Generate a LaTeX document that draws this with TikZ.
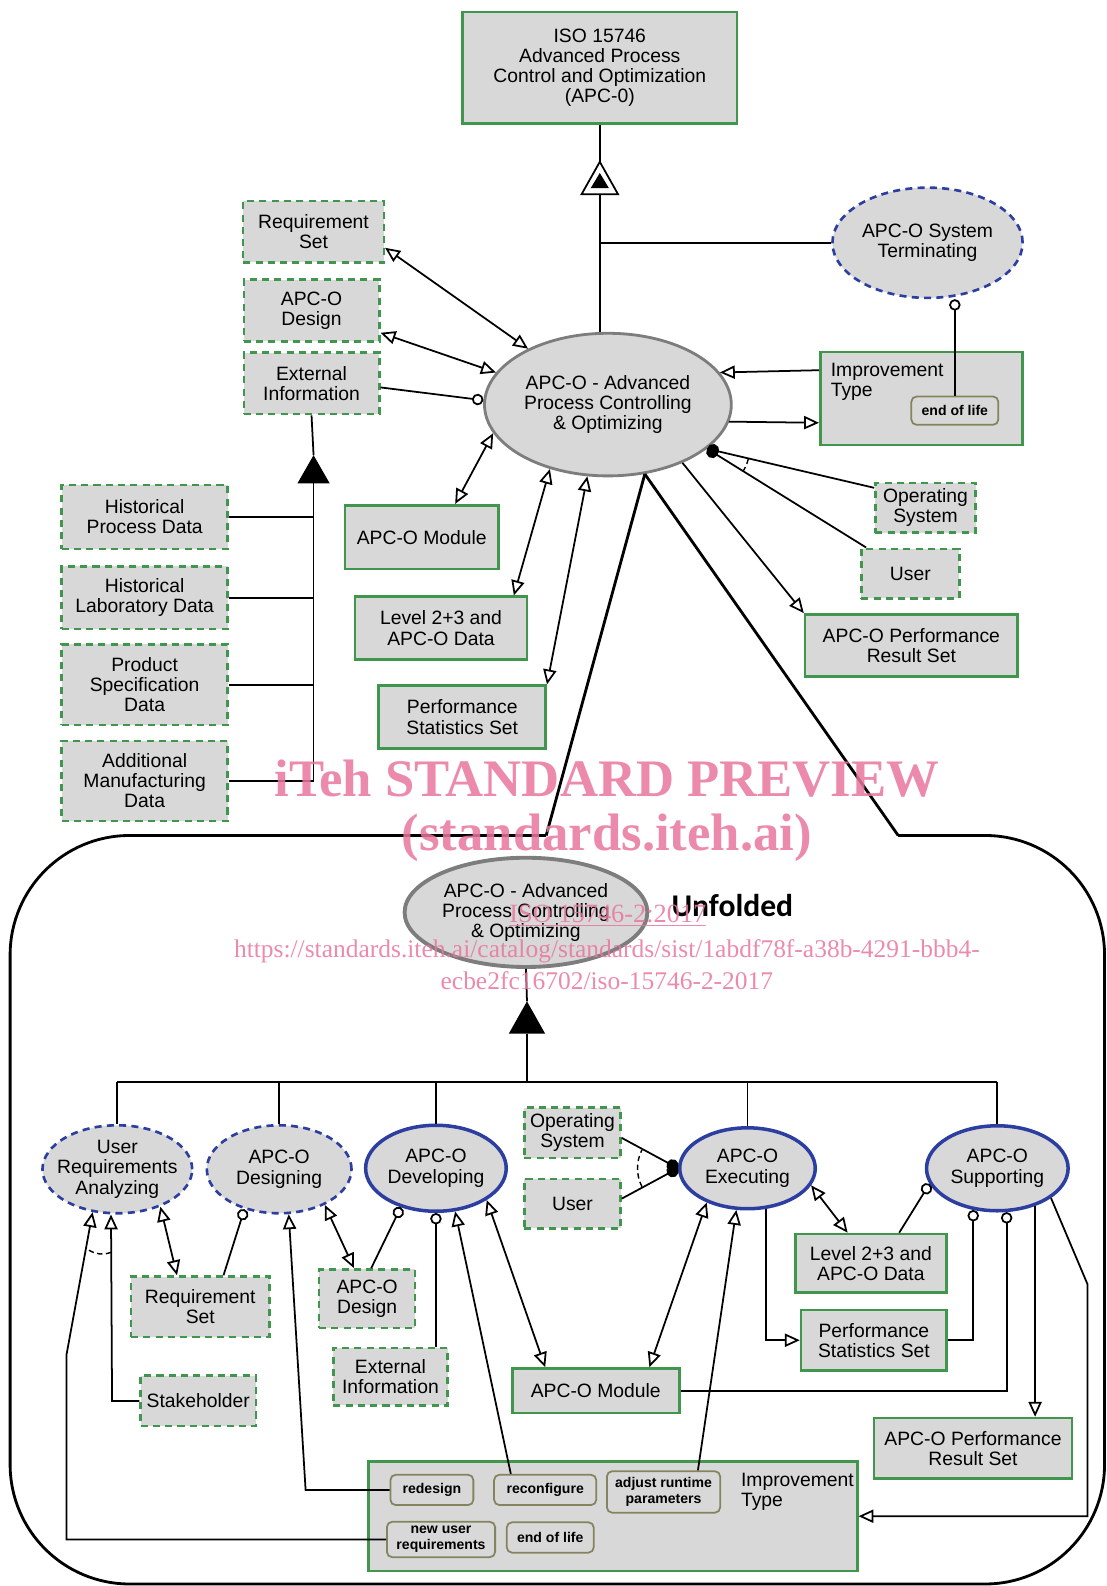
\documentclass[tikz,border=0pt]{standalone}
\usepackage{fontspec}
\setmainfont{Liberation Sans}
\newfontfamily\wmfont{Liberation Serif}
\newfontfamily\calfont{Carlito}
\usetikzlibrary{calc,shapes,arrows.meta,positioning}
\definecolor{boxgreen}{RGB}{64,150,76}
\definecolor{procblue}{RGB}{44,62,160}
\definecolor{boxfill}{RGB}{216,216,216}
\definecolor{procgray}{RGB}{125,125,125}
\definecolor{tagline}{RGB}{132,132,96}
\definecolor{wmpink}{RGB}{233,118,158}
\def\px{0.02024cm}
\tikzset{
     opentip/.tip={Triangle[open,length=8.5pt,width=7.5pt]},
     circtip/.tip={Circle[open,length=6.5pt]},
     dottip/.tip={Circle[length=7pt]},
     sz/.style 2 args={minimum width=#1*\px, minimum height=#2*\px},
     ptext/.style={label={[align=center,anchor=center]center:#1}},
     solid box/.style={rectangle, draw=boxgreen, line width=1.5pt, fill=boxfill, align=center, inner sep=1pt},
     dash box/.style={rectangle, draw=boxgreen, line width=1.4pt, dash pattern=on 4pt off 3pt, fill=boxfill, align=center, inner sep=1pt},
     state tag/.style={rectangle, rounded corners=3pt, draw=tagline, line width=1pt, fill=boxfill, align=center, inner sep=1pt, font=\fontsize{8}{9}\selectfont\bfseries},
     main proc/.style={ellipse, draw=procgray, line width=1.6pt, fill=boxfill, inner sep=0pt},
     open proc/.style={ellipse, draw=procblue, line width=1.5pt, dash pattern=on 4pt off 3pt, fill=boxfill, inner sep=0pt},
     sub proc/.style={ellipse, draw=procblue, line width=2pt, fill=boxfill, inner sep=0pt},
     biedge/.style={opentip-opentip},
     toedge/.style={-opentip},
     circedge/.style={-circtip},
     dotedge/.style={dottip-},
     zoomline/.style={line width=1.6pt},
     wmtext/.style={text=wmpink, text opacity=0.85},
    }

\begin{document}
\begin{tikzpicture}[x=0.02024cm, y=-0.02024cm, line width=1pt, every node/.append style={font=\fontsize{11}{11.5}\selectfont}]
        \useasboundingbox (0,0) rectangle (1094,1568);
        \node [solid box, sz={271}{110}] (iso) at (593,67) {ISO 15746\\Advanced Process\\Control and Optimization\\(APC-0)};
        \node [main proc, sz={244}{141}, ptext={APC-O - Advanced\\Process Controlling\\\& Optimizing}] (apc) at (601,400) {};
        \node [open proc, sz={188}{109}, ptext={APC-O System\\Terminating}] (term) at (917,240) {};
        \node [dash box, sz={139}{61}] (reqset) at (310,229) {Requirement\\Set};
        \node [dash box, sz={134}{61}] (design) at (308,307) {APC-O\\Design};
        \node [dash box, sz={134}{61}] (extinfo) at (308,379) {External\\Information};
        \node [dash box, sz={164}{63}] (hpd) at (143,511) {Historical\\Process Data};
        \node [dash box, sz={164}{62}] (hld) at (143,591) {Historical\\Laboratory Data};
        \node [dash box, sz={164}{80}] (psd) at (143,677) {Product\\Specification\\Data};
        \node [dash box, sz={164}{79}] (amd) at (143,772) {Additional\\Manufacturing\\Data};
        \node [solid box, sz={152}{63}] (module) at (417,531) {APC-O Module};
        \node [solid box, sz={170}{62}] (level) at (436,621) {Level 2+3 and\\APC-O Data};
        \node [solid box, sz={165}{62}] (perfstat) at (457,709) {Performance\\Statistics Set};
        \node [solid box, sz={200}{92}] (imptype) at (911,394) {};
        \node [anchor=north west, align=left] (imptypetxt) at ($(imptype.north west)+(5,6)$) {Improvement\\Type};
        \node [state tag, sz={86}{28}] (eol) at (944,406) {end of life};
        \node [dash box, sz={99}{49}] (opsys) at (915,502) {Operating\\System};
        \node [dash box, sz={97}{49}] (user) at (900,567) {User};
        \node [solid box, sz={210}{61}] (perfres) at (901,638) {APC-O Performance\\Result Set};

        \coordinate (g0top) at (593,160);
        \coordinate (g0bot) at (593,192);
        \draw[fill=white] (g0top) -- ++(-18,32) -- ++(36,0) -- cycle;
        \fill (593,171) -- ++(-9,15) -- ++(18,0) -- cycle;
        \draw (iso.south) -- (g0top);
        \draw (g0bot) -- (g0bot |- apc.north);
        \draw (term.west) -- (term.west -| g0bot);
        \draw[circedge] (eol.north) -- (eol.north |- term.south);

        \coordinate (g1top) at (310,450);
        \coordinate (g1bot) at (310,478);
        \fill (g1top) -- ++(-16,28) -- ++(32,0) -- cycle;
        \draw (extinfo.south) -- (g1top);
        \draw (g1bot) -- (g1bot |- amd.east);
        \foreach \b in {hpd,hld,psd,amd}
          \draw (\b.east) -- (\b.east -| g1bot);

        \draw[biedge] ($(reqset.east)+(0,16)$) -- (apc.145);
        \draw[biedge] ($(design.east)+(0,22)$) -- (apc.164);
        \draw[circedge] ($(extinfo.east)+(0,4)$) -- (apc.178);
        \draw[biedge] ($(module.north)+(33,0)$) -- (apc.194);
        \draw[biedge] ($(level.north)+(72,0)$) -- (apc.228);
        \draw[biedge] (perfstat.north east) -- (apc.254);
        \draw[toedge] ($(imptype.west)+(0,-28)$) -- (apc.16);
        \draw[toedge] (apc.-8) -- ($(imptype.west)+(0,24)$);
        \draw[dotedge] (apc.-24) -- ($(opsys.north west)+(0,6)$);
        \draw[dotedge] (apc.-24) -- ($(user.north west)+(6,0)$);
        \draw[densely dashed, line width=0.8pt] ($(apc.-24)+(13.7:42)$) arc[start angle=13.7, end angle=32, radius=42];
        \draw[toedge] (apc.-38) -- (perfres.north west);

        \coordinate (zl) at (540,826);
        \coordinate (zr) at (888,826);
        \draw[zoomline] (apc.-62) -- (zl);
        \draw[zoomline] (apc.-62) -- (zr);
        \draw[zoomline, rounded corners=2.39cm] (zl) -- (10,826) -- (10,1566) -- (1092,1566) -- (1092,826) -- (zr);

        \node [main proc, line width=2.2pt, sz={240}{108}, ptext={APC-O - Advanced\\Process Controlling\\\& Optimizing}] (apcin) at (520,902) {};
        \node [font=\calfont\bfseries\fontsize{18}{18}\selectfont] (unfold) at (724,895) {Unfolded};
        \coordinate (g2top) at (521,990);
        \coordinate (g2bot) at (521,1022);
        \fill (g2top) -- ++(-18,32) -- ++(36,0) -- cycle;
        \draw (apcin.south) -- (g2top);
        \draw[line width=1.6pt] (g2bot) -- ++(0,48) coordinate (bar);

        \node [open proc, sz={148}{87}, ptext={User\\Requirements\\Analyzing}] (ura) at (116,1156) {};
        \node [open proc, sz={143}{87}, ptext={APC-O\\Designing}] (des) at (276,1156) {};
        \node [sub proc, sz={139}{85}, ptext={APC-O\\Developing}] (dev) at (431,1155) {};
        \node [sub proc, sz={134}{80}, ptext={APC-O\\Executing}] (exe) at (739,1155) {};
        \node [sub proc, sz={140}{84}, ptext={APC-O\\Supporting}] (sup) at (986,1155) {};
        \draw (ura.north |- bar) -- (sup.north |- bar);
        \foreach \p in {ura,des,dev,exe,sup}
          \draw (\p.north |- bar) -- (\p.north);

        \node [dash box, sz={95}{50}] (opsys2) at (566,1120) {Operating\\System};
        \node [dash box, sz={95}{49}] (user2) at (566,1190) {User};
        \node [dash box, sz={137}{60}] (reqset2) at (198,1292) {Requirement\\Set};
        \node [dash box, sz={114}{50}] (stake) at (196,1385) {Stakeholder};
        \node [dash box, sz={95}{58}] (design2) at (363,1284) {APC-O\\Design};
        \node [dash box, sz={113}{57}] (extinfo2) at (386,1361) {External\\Information};
        \node [solid box, sz={165}{44}] (module2) at (589,1375) {APC-O Module};
        \node [solid box, sz={149}{58}] (level2) at (861,1249) {Level 2+3 and\\APC-O Data};
        \node [solid box, sz={144}{60}] (perfstat2) at (864,1325) {Performance\\Statistics Set};
        \node [solid box, sz={196}{60}] (perfres2) at (962,1432) {APC-O Performance\\Result Set};
        \node [solid box, sz={483}{108}] (imptype2) at (606,1499) {};
        \node [anchor=north west, align=left] (imptypetxt2) at (726,1450) {Improvement\\Type};
        \node [state tag, sz={82}{30}] (redesign) at (427,1473) {redesign};
        \node [state tag, sz={101}{30}] (reconf) at (539,1473) {reconfigure};
        \node [state tag, sz={112}{41}] (adjust) at (656,1475) {adjust runtime\\parameters};
        \node [state tag, sz={107}{35}] (newreq) at (436,1522) {new user\\requirements};
        \node [state tag, sz={86}{30}] (eol2) at (544,1520) {end of life};

        \draw[biedge] (ura.-41) -- ($(reqset2.north)+(-23,0)$);
        \draw[circedge] ($(reqset2.north)+(23,0)$) -- (des.-131);
        \draw[toedge] (stake.west) -- ++(-27,0) -- (ura.-98);
        \draw[toedge] (newreq.west) -| ++(-316,-182) -- (ura.-120);
        \draw[densely dashed, line width=0.8pt] (88,1236) to[bend right=25] (110,1238);
        \draw[toedge] (redesign.west) -- ++(-83,0) -- (des.-78);
        \draw[biedge] (des.-38) -- ($(design2.north)+(-13,0)$);
        \draw[circedge] ($(design2.north)+(4,0)$) -- (dev.-132);
        \draw[circedge] (dev.south |- extinfo2.north) -- (dev.south);
        \draw[toedge] ($(reconf.north)+(-34,0)$) -- (dev.-66);
        \draw[biedge] (dev.-32) -- ($(module2.north)+(-50,0)$);
        \draw[biedge] (exe.-140) -- ($(module2.north)+(53,0)$);
        \draw[toedge] ($(adjust.north)+(34,0)$) -- (exe.-105);
        \draw[dotedge] (exe.west) -- ($(opsys2.east)+(0,5)$);
        \draw[dotedge] (exe.west) -- ($(user2.east)+(0,-5)$);
        \draw[densely dashed, line width=0.8pt] ($(exe.west)+(152.9:40)$) arc[start angle=152.9, end angle=207.1, radius=40];
        \draw[biedge] (exe.-15) -- ($(level2.north)+(-23,0)$);
        \draw[circedge] ($(level2.north)+(28,0)$) -- (sup.193);
        \draw[toedge] (exe.-66) |- (perfstat2.west);
        \draw[circedge] (perfstat2.east) -| (sup.-120);
        \draw[circedge] (module2.east) -| (sup.-78);
        \draw[toedge] (sup.-45) -- (sup.-45 |- perfres2.north);
        \draw[toedge] (sup.-29) -- ++(36,85) |- (imptype2.east);

        \node [wmtext, font=\wmfont\bfseries\fontsize{30}{30}\selectfont] (wm1) at (600,770) {iTeh STANDARD PREVIEW};
        \node [wmtext, font=\wmfont\bfseries\fontsize{30}{30}\selectfont] (wm2) at (600,828) {(standards.iteh.ai)};
        \node [wmtext, font=\wmfont\fontsize{15}{15}\selectfont] (wm3) at (601,905) {\underline{ISO 15746-2:2017}};
        \node [wmtext, font=\wmfont\fontsize{14.5}{14.5}\selectfont] (wm4) at (600,940) {https://standards.iteh.ai/catalog/standards/sist/1abdf78f-a38b-4291-bbb4-};
        \node [wmtext, font=\wmfont\fontsize{14.5}{14.5}\selectfont] (wm5) at (600,970) {ecbe2fc16702/iso-15746-2-2017};
    \end{tikzpicture}
\end{document}
